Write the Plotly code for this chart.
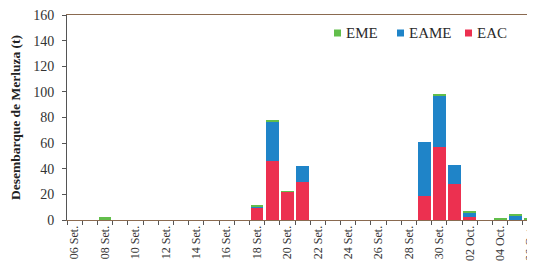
import plotly.graph_objects as go

days = ["06 Set.", "07 Set.", "08 Set.", "09 Set.", "10 Set.", "11 Set.", "12 Set.", "13 Set.",
        "14 Set.", "15 Set.", "16 Set.", "17 Set.", "18 Set.", "19 Set.", "20 Set.", "21 Set.",
        "22 Set.", "23 Set.", "24 Set.", "25 Set.", "26 Set.", "27 Set.", "28 Set.", "29 Set.",
        "30 Set.", "01 Oct.", "02 Oct.", "03 Oct.", "04 Oct.", "05 Oct.", "06 Oct."]

eac = [0, 0, 0, 0, 0, 0, 0, 0, 0, 0, 0, 0, 9.5, 46, 22, 30, 0, 0, 0, 0, 0, 0, 0, 19, 57, 28, 2, 0, 0, 0, 0]
eame = [0, 0, 0, 0, 0, 0, 0, 0, 0, 0, 0, 0, 0.7, 31, 0, 12.3, 0, 0, 0, 0, 0, 0, 0, 41.8, 40, 14.6, 4, 0, 0, 3.5, 0]
eme = [0, 0, 2, 0, 0, 0, 0, 0, 0, 0, 0, 0, 1.2, 0.3, 0.4, 0, 0, 0, 0, 0, 0, 0, 0, 0, 1.1, 0, 0.9, 0, 1.2, 1.2, 1.3]

series_names = ["EME", "EAME", "EAC"]

tick_text = [d if i % 2 == 0 else "" for i, d in enumerate(days)]

FONT = "Liberation Serif"
RED = "#EC3050"
BLUE = "#1F84C8"
GREEN = "#62BE4B"
colors = {"EAC": RED, "EAME": BLUE, "EME": GREEN}

W, H = 527, 260
ML, MR, MT, MB = 59, 0, 7, 48
PW = W - ML - MR
PH = H - MT - MB

fig = go.Figure()
fig.add_trace(go.Bar(x=days, y=eac, name="EAC", marker=dict(color=RED, line=dict(width=0))))
fig.add_trace(go.Bar(x=days, y=eame, name="EAME", marker=dict(color=BLUE, line=dict(width=0))))
fig.add_trace(go.Bar(x=days, y=eme, name="EME", marker=dict(color=GREEN, line=dict(width=0))))

# manual legend (swatch close to text, as in the reference)
legend_px = {"EME": 326, "EAME": 389, "EAC": 457}  # swatch left edge, figure pixels
legend_y = 25  # figure pixels from top
shapes = []
annotations = []
for name in series_names:
    x0 = (legend_px[name] - ML) / PW
    x1 = (legend_px[name] + 7 - ML) / PW
    yc = 1 - (legend_y - MT) / PH
    dy = 3.5 / PH
    shapes.append(dict(type="rect", xref="paper", yref="paper", x0=x0, x1=x1,
                       y0=yc - dy, y1=yc + dy, fillcolor=colors[name], line=dict(width=0)))
    annotations.append(dict(text=name, xref="paper", yref="paper",
                            x=(legend_px[name] + 10 - ML) / PW, y=yc,
                            xanchor="left", yanchor="middle", showarrow=False,
                            font=dict(family=FONT, size=15, color="#2a2a2a")))

fig.update_layout(
    width=W, height=H,
    margin=dict(l=ML, r=MR, t=MT, b=MB, autoexpand=False),
    barmode="stack",
    bargap=0.16,
    plot_bgcolor="white",
    paper_bgcolor="white",
    font=dict(family=FONT, size=13, color="#333333"),
    showlegend=False,
    shapes=shapes,
    annotations=annotations,
    xaxis=dict(
        type="category",
        categoryorder="array", categoryarray=days,
        range=[-0.5, 30.29],
        tickmode="array", tickvals=days, ticktext=tick_text,
        tickson="boundaries",
        tickangle=-90,
        ticks="outside", ticklen=4, tickcolor="#555555",
        tickfont=dict(family=FONT, size=12, color="#333333"),
        showline=True, linecolor="#8a6a50", linewidth=1,
        mirror=True,
        showgrid=False, zeroline=False,
        automargin=False,
    ),
    yaxis=dict(
        range=[0, 160], dtick=20,
        ticks="outside", ticklen=4, tickcolor="#555555",
        tickfont=dict(family=FONT, size=14, color="#333333"),
        ticklabelstandoff=5,
        ticklabeloverflow="allow",
        showline=True, linecolor="#555555", linewidth=1,
        showgrid=False, zeroline=False,
        title=dict(text="<b>Desembarque de Merluza (t)</b>",
                   font=dict(family=FONT, size=13.5, color="#222222"), standoff=10),
        automargin=False,
    ),
)

fig.write_html("out.html")
